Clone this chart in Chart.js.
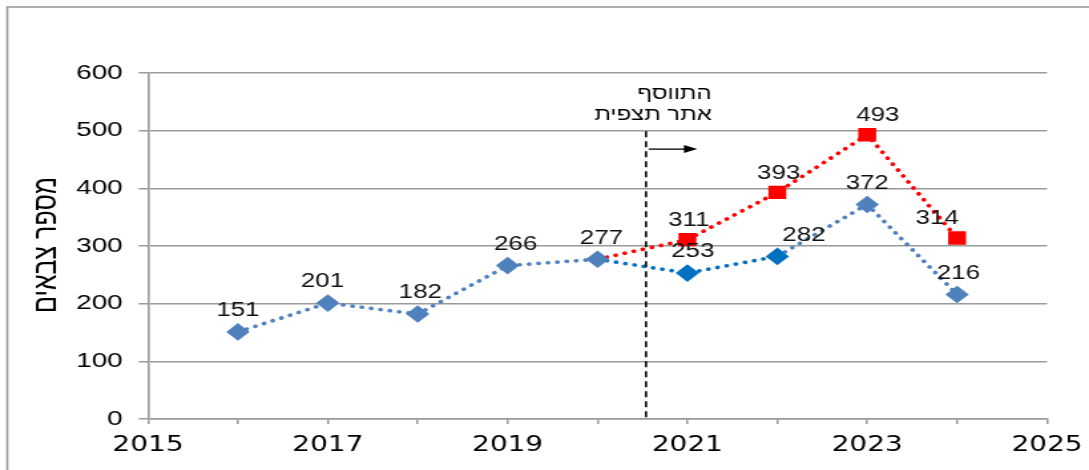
<!DOCTYPE html>
<html lang="he">
<head>
<meta charset="utf-8">
<script src="https://cdn.jsdelivr.net/npm/chart.js@4/dist/chart.umd.min.js"></script>
<style>
  html, body { margin: 0; padding: 0; background: #fff; overflow: hidden; }
  /* the reference is stretched sideways, so the chart is drawn narrow and scaled */
  #wrap { width: 819px; height: 470px; transform: scaleX(1.3297); transform-origin: 0 0; }
</style>
</head>
<body>
<div id="wrap"><canvas id="grafico"></canvas></div>
<script>
// Dados
const anos = [2016, 2017, 2018, 2019, 2020, 2021, 2022, 2023, 2024];
const contagemAntiga = [151, 201, 182, 266, 277, 253, 282, 372, 216];
const contagemTotal = [null, null, null, null, 277, 311, 393, 493, 314];
const ticksY = [0, 100, 200, 300, 400, 500, 600];
const tituloY = "מספר צבאים";
const textoNota = ["התווסף", "אתר תצפית"];
const anoNovoPosto = 2020.54;

const azul = "#4F81BD";
const azulForte = "#0070C0";
const vermelho = "#FF0000";
const cinza = "#9a9a9a";

// Deslocamentos horizontais dos rótulos (px)
const deslocBlue = [0, -4, 2, 6, 3, 4, 20, 0, 1];
const deslocRed = [0, 1, 1, 8, -15];

const pontosAzuis = anos.map((a, i) => ({ x: a, y: contagemAntiga[i] }));
const pontosVermelhos = anos.map((a, i) => ({ x: a, y: contagemTotal[i] })).filter(p => p.y !== null);

// Plugin: moldura, título do eixo, rótulos, linha tracejada e seta
const extras = {
    id: 'extras',
    afterDraw(chart) {
        const ctx = chart.ctx;
        const sx = chart.scales.x;
        const sy = chart.scales.y;
        ctx.save();

        // moldura
        ctx.strokeStyle = cinza;
        ctx.lineWidth = 1.6;
        ctx.strokeRect(5.5, 7, 2000, 2000);

        // título do eixo Y
        ctx.save();
        ctx.translate(35.5, 245);
        ctx.rotate(-Math.PI / 2);
        ctx.fillStyle = "#000";
        ctx.font = "25px 'Liberation Sans', Arial, sans-serif";
        ctx.textAlign = "center";
        ctx.textBaseline = "middle";
        ctx.direction = "rtl";
        ctx.fillText(tituloY, 0, 0);
        ctx.restore();

        // linha tracejada vertical
        const xl = sx.getPixelForValue(anoNovoPosto);
        ctx.strokeStyle = "#000";
        ctx.lineWidth = 1.6;
        ctx.setLineDash([6, 4]);
        ctx.beginPath();
        ctx.moveTo(xl, sy.getPixelForValue(499));
        ctx.lineTo(xl, sy.bottom);
        ctx.stroke();
        ctx.setLineDash([]);

        // seta
        const ya = sy.getPixelForValue(468);
        const x1 = sx.getPixelForValue(2020.57);
        const x2 = sx.getPixelForValue(2021.11);
        ctx.lineWidth = 1.3;
        ctx.beginPath();
        ctx.moveTo(x1, ya);
        ctx.lineTo(x2 - 8, ya);
        ctx.stroke();
        ctx.beginPath();
        ctx.moveTo(x2, ya);
        ctx.lineTo(x2 - 10, ya - 4);
        ctx.lineTo(x2 - 10, ya + 4);
        ctx.closePath();
        ctx.fillStyle = "#000";
        ctx.fill();

        // nota
        ctx.font = "18px 'Liberation Sans', Arial, sans-serif";
        ctx.textAlign = "right";
        ctx.textBaseline = "middle";
        ctx.direction = "rtl";
        const xt = sx.getPixelForValue(2021.27);
        ctx.fillText(textoNota[0], xt, sy.getPixelForValue(563));
        ctx.fillText(textoNota[1], xt, sy.getPixelForValue(527));

        // rótulos dos valores
        ctx.direction = "ltr";
        ctx.textAlign = "center";
        ctx.font = "19.5px 'Liberation Sans', Arial, sans-serif";
        ctx.fillStyle = "#111";
        pontosAzuis.forEach((p, i) => {
            ctx.fillText(String(p.y), sx.getPixelForValue(p.x) + deslocBlue[i], sy.getPixelForValue(p.y) - 21);
        });
        pontosVermelhos.forEach((p, i) => {
            if (i === 0) return;
            ctx.fillText(String(p.y), sx.getPixelForValue(p.x) + deslocRed[i], sy.getPixelForValue(p.y) - 19);
        });

        ctx.restore();
    }
};

const corAzul = c => (c.dataIndex === 5 || c.dataIndex === 6) ? azulForte : azul;

new Chart(document.getElementById("grafico"), {
    type: "line",
    data: {
        datasets: [
            {
                label: "total",
                data: pontosVermelhos,
                borderColor: vermelho,
                backgroundColor: vermelho,
                borderWidth: 3.7,
                borderDash: [0.1, 7],
                borderCapStyle: "round",
                pointStyle: "rect",
                pointRadius: c => c.dataIndex === 0 ? 0 : 9.5,
                pointHoverRadius: 9.5,
                pointBorderWidth: 0,
                pointBackgroundColor: vermelho,
                tension: 0,
                order: 2
            },
            {
                label: "antigo",
                data: pontosAzuis,
                borderColor: azul,
                backgroundColor: azul,
                borderWidth: 3.7,
                borderDash: [0.1, 7],
                borderCapStyle: "round",
                segment: {
                    borderColor: c => (c.p0DataIndex === 4 || c.p0DataIndex === 5) ? azulForte : azul
                },
                pointStyle: "rectRot",
                pointRadius: 8.8,
                pointHoverRadius: 8.8,
                pointBorderWidth: 0,
                pointBackgroundColor: corAzul,
                tension: 0,
                order: 1
            }
        ]
    },
    options: {
        responsive: true,
        maintainAspectRatio: false,
        animation: false,
        events: [],
        layout: { padding: { left: 0, right: 31.6, top: 73, bottom: 0 } },
        plugins: {
            legend: { display: false },
            tooltip: { enabled: false }
        },
        scales: {
            x: {
                type: "linear",
                min: 2015,
                max: 2025,
                afterFit: s => { s.height = 51; s.paddingLeft = 0; s.paddingRight = 0; },
                afterBuildTicks: s => { s.ticks = []; for (let a = 2015; a <= 2025; a++) s.ticks.push({ value: a }); },
                ticks: {
                    autoSkip: false,
                    maxRotation: 0,
                    padding: 9,
                    color: "#000",
                    font: { family: "'DejaVu Sans', Verdana, sans-serif", size: 21 },
                    callback: v => (v % 2 === 1 ? String(v) : "")
                },
                grid: { drawOnChartArea: false, drawTicks: true, tickLength: 5, color: cinza, lineWidth: 1.5 },
                border: { color: cinza, width: 1.6 }
            },
            y: {
                min: 0,
                max: 600,
                afterFit: s => { s.width = 111.3; },
                afterBuildTicks: s => { s.ticks = ticksY.map(v => ({ value: v })); },
                ticks: {
                    padding: 12,
                    color: "#000",
                    font: { family: "'Liberation Sans', Arial, sans-serif", size: 21 }
                },
                grid: { color: cinza, lineWidth: 1.5, tickLength: 7 },
                border: { color: cinza, width: 1.6 }
            }
        }
    },
    plugins: [extras]
});
</script>
</body>
</html>
